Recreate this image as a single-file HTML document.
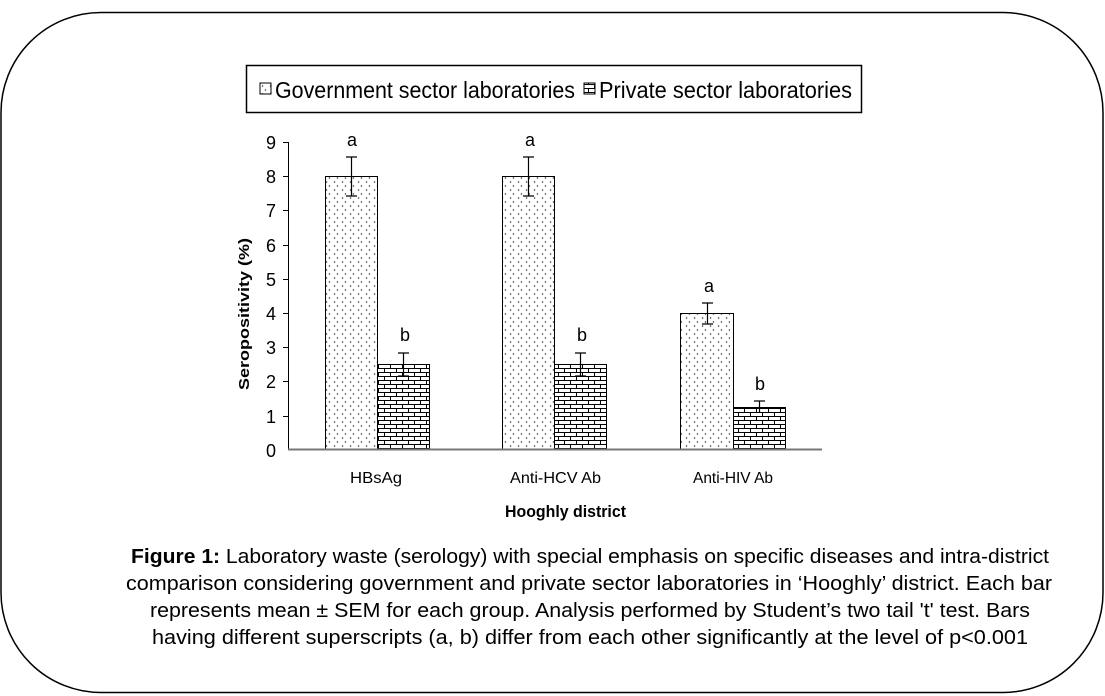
<!DOCTYPE html>
<html><head><meta charset="utf-8"><style>
body{margin:0;background:#fff}
svg{display:block}
text{font-family:"Liberation Sans",Arial,sans-serif}
</style></head><body>
<svg width="1105" height="696" viewBox="0 0 1105 696" xmlns="http://www.w3.org/2000/svg">
<defs>
<pattern id="dots" width="8" height="8" patternUnits="userSpaceOnUse">
<rect width="8" height="8" fill="#fff"/>
<path d="M2 1 L1 2 L2 3 M6 5 L7 6 L6 7" stroke="#555" stroke-width="0.8" fill="none"/>
</pattern>
<pattern id="brick" width="12" height="8" patternUnits="userSpaceOnUse">
<rect width="12" height="8" fill="#fff"/>
<path d="M0 0.5 H12 M0 4.5 H12 M0.5 0.5 V4.5 M6.5 4.5 V8.5" stroke="#000" stroke-width="1" fill="none"/>
</pattern>
</defs>
<rect x="1" y="12.5" width="1102" height="680" rx="100" ry="100" fill="none" stroke="#000" stroke-width="1.5"/>
<!-- legend -->
<rect x="246.5" y="65.5" width="615" height="47" fill="#fff" stroke="#000" stroke-width="1.5"/>
<rect x="260" y="83" width="11" height="11" fill="url(#dots)" stroke="#000"/>
<text x="275" y="98" font-size="23" textLength="300" lengthAdjust="spacingAndGlyphs">Government sector laboratories</text>
<rect x="584" y="83" width="11" height="11" fill="url(#brick)" stroke="#000"/>
<text x="599" y="98" font-size="23" textLength="253" lengthAdjust="spacingAndGlyphs">Private sector laboratories</text>
<!-- axes -->
<line x1="288.5" y1="142" x2="288.5" y2="450" stroke="#000"/>
<g stroke="#000">
<line x1="283" y1="142.5" x2="288" y2="142.5"/><line x1="283" y1="176.5" x2="288" y2="176.5"/>
<line x1="283" y1="210.5" x2="288" y2="210.5"/><line x1="283" y1="245.5" x2="288" y2="245.5"/>
<line x1="283" y1="279.5" x2="288" y2="279.5"/><line x1="283" y1="313.5" x2="288" y2="313.5"/>
<line x1="283" y1="347.5" x2="288" y2="347.5"/><line x1="283" y1="381.5" x2="288" y2="381.5"/>
<line x1="283" y1="416.5" x2="288" y2="416.5"/>
</g>
<g font-size="18" text-anchor="end">
<text x="276" y="149">9</text><text x="276" y="183">8</text><text x="276" y="217">7</text>
<text x="276" y="252">6</text><text x="276" y="286">5</text><text x="276" y="320">4</text>
<text x="276" y="354">3</text><text x="276" y="388">2</text><text x="276" y="423">1</text>
<text x="276" y="457">0</text>
</g>
<text transform="translate(249,390) rotate(-90)" font-size="15" font-weight="bold" textLength="152" lengthAdjust="spacingAndGlyphs">Seropositivity  (%)</text>
<!-- bars -->
<g stroke="#000" stroke-width="1">
<rect x="325.5" y="176.5" width="52" height="273" fill="url(#dots)"/>
<rect x="377.5" y="364.5" width="52" height="85" fill="url(#brick)"/>
<rect x="502.5" y="176.5" width="52" height="273" fill="url(#dots)"/>
<rect x="554.5" y="364.5" width="52" height="85" fill="url(#brick)"/>
<rect x="680.5" y="313.5" width="53" height="136" fill="url(#dots)"/>
<rect x="733.5" y="407.5" width="52" height="42" fill="url(#brick)"/>
</g>
<line x1="288" y1="449.5" x2="822" y2="449.5" stroke="#777" stroke-width="2"/>
<!-- error bars -->
<g stroke="#000" stroke-width="1.2">
<path d="M351.5 157V196 M346 157H357 M346 196H357"/>
<path d="M403.5 353V376 M398 353H409 M398 376H409"/>
<path d="M528.5 157V196 M523 157H534 M523 196H534"/>
<path d="M580.5 353V376 M575 353H586 M575 376H586"/>
<path d="M707.5 303V324 M702 303H713 M702 324H713"/>
<path d="M759.5 401V413 M754 401H765"/>
</g>
<g font-size="18" text-anchor="middle">
<text x="352" y="146">a</text><text x="405" y="341">b</text>
<text x="530" y="146">a</text><text x="582" y="341">b</text>
<text x="709" y="292">a</text><text x="760" y="390">b</text>
</g>
<g font-size="16">
<text x="350" y="483" textLength="52" lengthAdjust="spacingAndGlyphs">HBsAg</text>
<text x="510" y="483" textLength="91" lengthAdjust="spacingAndGlyphs">Anti-HCV Ab</text>
<text x="693" y="483" textLength="80" lengthAdjust="spacingAndGlyphs">Anti-HIV Ab</text>
</g>
<text x="505" y="517" font-size="17" font-weight="bold" textLength="121" lengthAdjust="spacingAndGlyphs">Hooghly district</text>
<g font-size="20">
<text x="131" y="563" textLength="918" lengthAdjust="spacingAndGlyphs"><tspan font-weight="bold">Figure 1:</tspan> Laboratory waste (serology) with special emphasis on specific diseases and intra-district</text>
<text x="126" y="590" textLength="926" lengthAdjust="spacingAndGlyphs">comparison considering government and private sector laboratories in ‘Hooghly’ district. Each bar</text>
<text x="150" y="617" textLength="880" lengthAdjust="spacingAndGlyphs">represents mean ± SEM for each group. Analysis performed by Student’s two tail 't' test. Bars</text>
<text x="152" y="644" textLength="876" lengthAdjust="spacingAndGlyphs">having different superscripts (a, b) differ from each other significantly at the level of p&lt;0.001</text>
</g>
</svg>
</body></html>
